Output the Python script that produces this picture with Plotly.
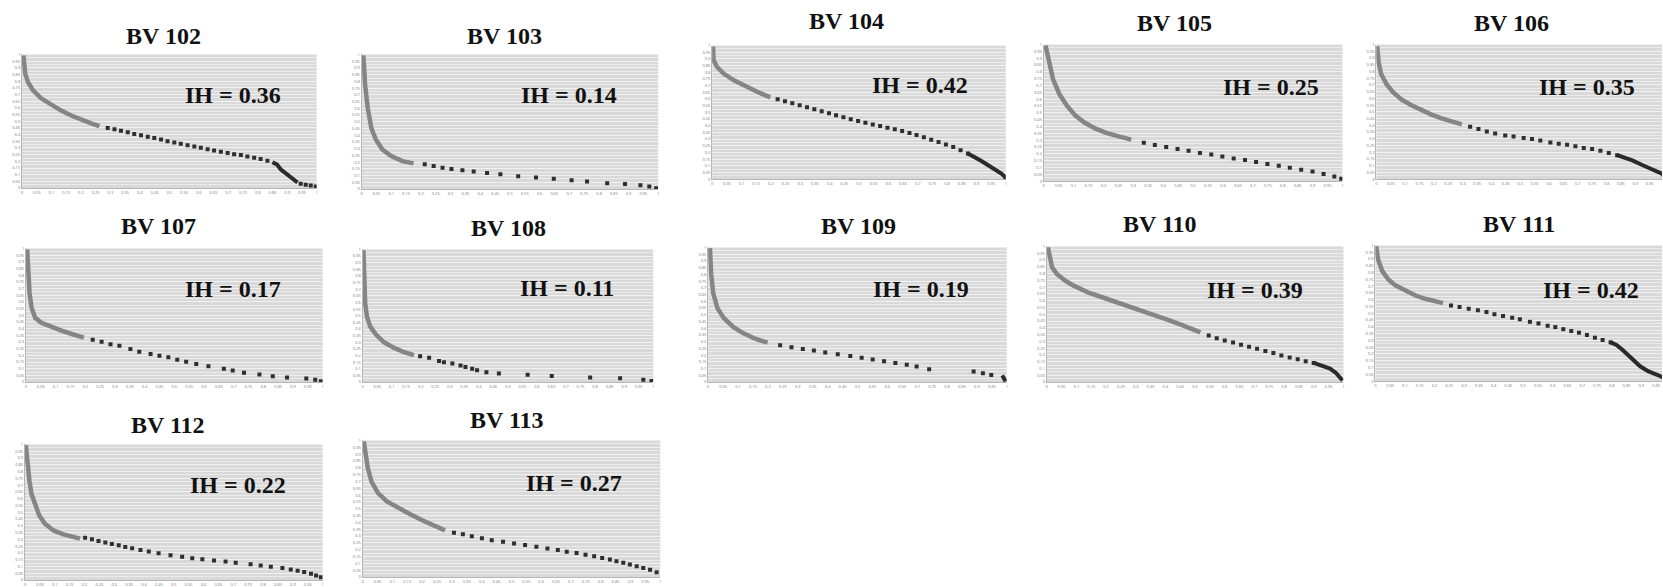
import plotly.graph_objects as go

W, H = 1663, 587

BASINS = ["BV 102", "BV 103", "BV 104", "BV 105", "BV 106", "BV 107",
          "BV 108", "BV 109", "BV 110", "BV 111", "BV 112", "BV 113"]
IH = [0.36, 0.14, 0.42, 0.25, 0.35, 0.17, 0.11, 0.19, 0.39, 0.42, 0.22, 0.27]
TICKS = [round(i * 0.05, 2) for i in range(21)]

# ---- BV 102
bv102_head_x = [0.005, 0.011, 0.02, 0.037, 0.065, 0.099, 0.133, 0.167, 0.201, 0.235, 0.263]
bv102_head_y = [0.993, 0.857, 0.795, 0.733, 0.672, 0.622, 0.58, 0.543, 0.511, 0.484, 0.464]
bv102_dots_x = [0.291, 0.314, 0.336, 0.359, 0.381, 0.404, 0.427, 0.449, 0.472, 0.494, 0.517, 0.539, 0.562,
                0.585, 0.607, 0.630, 0.652, 0.675, 0.698, 0.72, 0.743, 0.765, 0.788, 0.81, 0.833,
                0.946, 0.963, 0.98, 0.997]
bv102_dots_y = [0.449, 0.44, 0.43, 0.417, 0.405, 0.395, 0.385, 0.375, 0.363, 0.351, 0.341, 0.331, 0.321,
                0.311, 0.301, 0.291, 0.281, 0.272, 0.262, 0.254, 0.247, 0.237, 0.227, 0.217, 0.205,
                0.032, 0.025, 0.02, 0.012]
bv102_tail_x = [0.85, 0.865, 0.878, 0.9, 0.923, 0.935]
bv102_tail_y = [0.193, 0.178, 0.141, 0.099, 0.062, 0.042]

# ---- BV 103
bv103_head_x = [0.006, 0.012, 0.021, 0.033, 0.048, 0.07, 0.1, 0.138, 0.175]
bv103_head_y = [0.993, 0.772, 0.6, 0.453, 0.368, 0.294, 0.245, 0.208, 0.191]
bv103_dots_x = [0.213, 0.243, 0.273, 0.303, 0.34, 0.378, 0.423, 0.468, 0.528, 0.588, 0.648, 0.708,
                0.76, 0.828, 0.888, 0.94, 0.97, 0.993]
bv103_dots_y = [0.184, 0.172, 0.159, 0.15, 0.14, 0.13, 0.12, 0.11, 0.096, 0.086, 0.076, 0.066,
                0.056, 0.044, 0.037, 0.029, 0.02, 0.007]
bv103_tail_x = []
bv103_tail_y = []

# ---- BV 104
bv104_head_x = [0.003, 0.005, 0.017, 0.039, 0.074, 0.108, 0.153, 0.198]
bv104_head_y = [0.993, 0.889, 0.84, 0.79, 0.74, 0.699, 0.654, 0.612]
bv104_dots_x = [0.223, 0.248, 0.273, 0.298, 0.323, 0.348, 0.373, 0.398, 0.422, 0.447, 0.472, 0.497,
                0.522, 0.547, 0.572, 0.597, 0.622, 0.647, 0.672, 0.696, 0.721, 0.746, 0.771, 0.796,
                0.821, 0.846, 0.871]
bv104_dots_y = [0.598, 0.583, 0.568, 0.553, 0.538, 0.523, 0.509, 0.494, 0.479, 0.464, 0.449, 0.435,
                0.422, 0.41, 0.398, 0.385, 0.373, 0.36, 0.346, 0.331, 0.314, 0.296, 0.279, 0.259,
                0.24, 0.217, 0.193]
bv104_tail_x = [0.871, 0.896, 0.917, 0.94, 0.963, 0.985, 0.997, 1.0]
bv104_tail_y = [0.193, 0.165, 0.136, 0.104, 0.074, 0.042, 0.017, 0.0]

# ---- BV 105
bv105_head_x = [0.006, 0.017, 0.031, 0.052, 0.077, 0.105, 0.136, 0.172, 0.209, 0.251, 0.293]
bv105_head_y = [0.993, 0.867, 0.747, 0.639, 0.554, 0.482, 0.429, 0.386, 0.354, 0.328, 0.304]
bv105_dots_x = [0.335, 0.372, 0.41, 0.448, 0.485, 0.523, 0.561, 0.598, 0.636, 0.674, 0.711, 0.749,
                0.787, 0.824, 0.862, 0.9, 0.937, 0.973, 0.996]
bv105_dots_y = [0.282, 0.265, 0.251, 0.236, 0.222, 0.207, 0.195, 0.181, 0.166, 0.154, 0.14, 0.125,
                0.113, 0.099, 0.084, 0.07, 0.053, 0.034, 0.017]
bv105_tail_x = []
bv105_tail_y = []

# ---- BV 106
bv106_head_x = [0.003, 0.008, 0.017, 0.035, 0.058, 0.087, 0.122, 0.157, 0.192, 0.227, 0.262, 0.297]
bv106_head_y = [0.988, 0.866, 0.78, 0.707, 0.646, 0.593, 0.549, 0.512, 0.48, 0.451, 0.427, 0.407]
bv106_dots_x = [0.326, 0.355, 0.384, 0.413, 0.448, 0.477, 0.512, 0.541, 0.57, 0.605, 0.634, 0.663,
                0.692, 0.721, 0.75, 0.779, 0.808, 0.837]
bv106_dots_y = [0.39, 0.373, 0.354, 0.339, 0.324, 0.317, 0.305, 0.298, 0.288, 0.273, 0.263, 0.256,
                0.244, 0.232, 0.224, 0.212, 0.195, 0.178]
bv106_tail_x = [0.837, 0.866, 0.89, 0.924, 0.959, 0.993, 1.0]
bv106_tail_y = [0.178, 0.159, 0.139, 0.105, 0.073, 0.041, 0.02]

# ---- BV 107
bv107_head_x = [0.004, 0.007, 0.012, 0.019, 0.031, 0.052, 0.082, 0.12, 0.157, 0.195]
bv107_head_y = [0.993, 0.815, 0.667, 0.556, 0.481, 0.444, 0.415, 0.385, 0.358, 0.333]
bv107_dots_x = [0.225, 0.255, 0.285, 0.315, 0.352, 0.382, 0.42, 0.45, 0.48, 0.51, 0.54, 0.574, 0.615,
                0.667, 0.697, 0.735, 0.787, 0.832, 0.88, 0.945, 0.975, 0.994]
bv107_dots_y = [0.316, 0.301, 0.284, 0.272, 0.247, 0.227, 0.21, 0.198, 0.185, 0.168, 0.153, 0.136, 0.119,
                0.099, 0.086, 0.069, 0.057, 0.044, 0.035, 0.027, 0.017, 0.007]
bv107_tail_x = []
bv107_tail_y = []

# ---- BV 108
bv108_head_x = [0.003, 0.006, 0.009, 0.015, 0.026, 0.046, 0.074, 0.109, 0.143, 0.177]
bv108_head_y = [0.995, 0.745, 0.595, 0.495, 0.42, 0.358, 0.3, 0.258, 0.225, 0.203]
bv108_dots_x = [0.198, 0.229, 0.263, 0.28, 0.309, 0.337, 0.354, 0.377, 0.394, 0.426, 0.469, 0.568,
                0.651, 0.783, 0.886, 0.966, 0.994]
bv108_dots_y = [0.195, 0.183, 0.158, 0.15, 0.14, 0.125, 0.113, 0.1, 0.09, 0.075, 0.065, 0.055,
                0.045, 0.035, 0.028, 0.018, 0.008]
bv108_tail_x = []
bv108_tail_y = []

# ---- BV 109
bv109_head_x = [0.006, 0.01, 0.017, 0.031, 0.052, 0.084, 0.115, 0.157, 0.199]
bv109_head_y = [0.995, 0.805, 0.659, 0.549, 0.476, 0.41, 0.366, 0.322, 0.293]
bv109_dots_x = [0.241, 0.279, 0.317, 0.354, 0.392, 0.434, 0.476, 0.514, 0.551, 0.589, 0.627, 0.665,
                0.698, 0.74, 0.889, 0.92, 0.948]
bv109_dots_y = [0.273, 0.259, 0.246, 0.234, 0.22, 0.207, 0.194, 0.181, 0.168, 0.155, 0.142, 0.128,
                0.115, 0.095, 0.078, 0.065, 0.052]
bv109_tail_x = [0.985, 0.99, 0.993, 0.996]
bv109_tail_y = [0.05, 0.035, 0.02, 0.005]

# ---- BV 110
bv110_head_x = [0.004, 0.01, 0.018, 0.034, 0.061, 0.089, 0.116, 0.143, 0.177, 0.211, 0.246, 0.28,
                0.314, 0.348, 0.382, 0.416, 0.45, 0.484, 0.518]
bv110_head_y = [0.993, 0.908, 0.847, 0.798, 0.749, 0.713, 0.681, 0.657, 0.633, 0.608, 0.584, 0.56,
                0.531, 0.506, 0.482, 0.453, 0.426, 0.397, 0.367]
bv110_dots_x = [0.546, 0.573, 0.6, 0.628, 0.655, 0.682, 0.709, 0.737, 0.764, 0.791, 0.819, 0.846,
                0.873, 0.9]
bv110_dots_y = [0.343, 0.324, 0.307, 0.292, 0.275, 0.26, 0.246, 0.229, 0.214, 0.197, 0.182, 0.168,
                0.153, 0.141]
bv110_tail_x = [0.9, 0.928, 0.955, 0.975, 0.989, 0.997]
bv110_tail_y = [0.141, 0.124, 0.1, 0.068, 0.036, 0.012]

# ---- BV 111
bv111_head_x = [0.003, 0.009, 0.023, 0.043, 0.069, 0.103, 0.136, 0.169, 0.203, 0.229]
bv111_head_y = [0.995, 0.898, 0.813, 0.752, 0.704, 0.663, 0.631, 0.607, 0.587, 0.575]
bv111_dots_x = [0.256, 0.285, 0.316, 0.347, 0.376, 0.403, 0.432, 0.463, 0.489, 0.523, 0.552, 0.583,
                0.609, 0.636, 0.663, 0.689, 0.716, 0.743, 0.769, 0.796]
bv111_dots_y = [0.558, 0.546, 0.534, 0.522, 0.51, 0.493, 0.481, 0.468, 0.456, 0.437, 0.425, 0.408,
                0.398, 0.383, 0.369, 0.357, 0.34, 0.32, 0.303, 0.286]
bv111_tail_x = [0.796, 0.816, 0.836, 0.856, 0.876, 0.896, 0.923, 0.949, 0.969, 1.0]
bv111_tail_y = [0.286, 0.267, 0.231, 0.189, 0.146, 0.109, 0.073, 0.049, 0.029, 0.005]

# ---- BV 112
bv112_head_x = [0.003, 0.008, 0.015, 0.022, 0.034, 0.048, 0.067, 0.096, 0.129, 0.163, 0.185]
bv112_head_y = [0.995, 0.854, 0.732, 0.634, 0.549, 0.476, 0.415, 0.366, 0.337, 0.317, 0.305]
bv112_dots_x = [0.202, 0.225, 0.247, 0.27, 0.292, 0.315, 0.337, 0.36, 0.388, 0.416, 0.449, 0.489,
                0.528, 0.562, 0.596, 0.635, 0.674, 0.708, 0.758, 0.792, 0.826, 0.865, 0.893, 0.916,
                0.938, 0.961, 0.978, 0.994]
bv112_dots_y = [0.312, 0.3, 0.288, 0.276, 0.266, 0.256, 0.244, 0.234, 0.222, 0.21, 0.198, 0.183,
                0.171, 0.161, 0.154, 0.144, 0.137, 0.127, 0.117, 0.107, 0.098, 0.088, 0.078, 0.068,
                0.059, 0.046, 0.034, 0.02]
bv112_tail_x = []
bv112_tail_y = []

# ---- BV 113
bv113_head_x = [0.004, 0.01, 0.018, 0.03, 0.052, 0.082, 0.12, 0.157, 0.202, 0.247, 0.277]
bv113_head_y = [0.993, 0.892, 0.795, 0.699, 0.614, 0.554, 0.506, 0.463, 0.414, 0.366, 0.342]
bv113_dots_x = [0.307, 0.337, 0.367, 0.401, 0.434, 0.472, 0.509, 0.546, 0.584, 0.621, 0.656, 0.686,
                0.719, 0.749, 0.778, 0.805, 0.831, 0.853, 0.876, 0.898, 0.921, 0.943, 0.966, 0.988]
bv113_dots_y = [0.325, 0.313, 0.299, 0.284, 0.27, 0.258, 0.246, 0.234, 0.222, 0.21, 0.198, 0.186,
                0.176, 0.164, 0.152, 0.14, 0.128, 0.116, 0.104, 0.092, 0.08, 0.067, 0.053, 0.036]
bv113_tail_x = []
bv113_tail_y = []

SERIES = [
    (bv102_head_x, bv102_head_y, bv102_dots_x, bv102_dots_y, bv102_tail_x, bv102_tail_y),
    (bv103_head_x, bv103_head_y, bv103_dots_x, bv103_dots_y, bv103_tail_x, bv103_tail_y),
    (bv104_head_x, bv104_head_y, bv104_dots_x, bv104_dots_y, bv104_tail_x, bv104_tail_y),
    (bv105_head_x, bv105_head_y, bv105_dots_x, bv105_dots_y, bv105_tail_x, bv105_tail_y),
    (bv106_head_x, bv106_head_y, bv106_dots_x, bv106_dots_y, bv106_tail_x, bv106_tail_y),
    (bv107_head_x, bv107_head_y, bv107_dots_x, bv107_dots_y, bv107_tail_x, bv107_tail_y),
    (bv108_head_x, bv108_head_y, bv108_dots_x, bv108_dots_y, bv108_tail_x, bv108_tail_y),
    (bv109_head_x, bv109_head_y, bv109_dots_x, bv109_dots_y, bv109_tail_x, bv109_tail_y),
    (bv110_head_x, bv110_head_y, bv110_dots_x, bv110_dots_y, bv110_tail_x, bv110_tail_y),
    (bv111_head_x, bv111_head_y, bv111_dots_x, bv111_dots_y, bv111_tail_x, bv111_tail_y),
    (bv112_head_x, bv112_head_y, bv112_dots_x, bv112_dots_y, bv112_tail_x, bv112_tail_y),
    (bv113_head_x, bv113_head_y, bv113_dots_x, bv113_dots_y, bv113_tail_x, bv113_tail_y),
]

# layout (pixels): plot box left, right, top, bottom ; x max shown ; title centre ; IH label centre
BOXES = [(21, 316, 52, 187), (361, 658, 52, 188), (712, 1006, 43, 178), (1044, 1343, 42, 180),
         (1377, 1663, 42, 178), (25, 322, 248, 383), (362, 653, 249, 383), (708, 1007, 247, 383),
         (1047, 1344, 246, 383), (1376, 1663, 245, 382), (24, 322, 446, 583), (362, 660, 442, 580)]
XMAX = [1, 1, 1, 1, 0.993, 1, 1, 1, 1, 0.97, 1, 1]
TITLE_POS = [(163, 33), (504, 33), (847, 18), (1175, 20), (1512, 20), (158, 225), (508, 227),
             (859, 225), (1160, 223), (1520, 223), (167, 426), (507, 421)]
IH_POS = [(232, 93), (569, 93), (920, 83), (1272, 85), (1588, 85), (232, 289), (567, 288),
          (921, 289), (1256, 290), (1592, 290), (237, 487), (574, 485)]

SERIF = "Liberation Serif, Times New Roman, serif"

fig = go.Figure()
layout = dict(width=W, height=H, margin=dict(l=0, r=0, t=0, b=0),
              paper_bgcolor="white", plot_bgcolor="#d9d9d9", showlegend=False)
annotations = []

for i, (hx, hy, dx, dy, tx, ty) in enumerate(SERIES):
    n = i + 1
    xa = "x" if n == 1 else f"x{n}"
    ya = "y" if n == 1 else f"y{n}"
    fig.add_trace(go.Scatter(x=hx, y=hy, mode="lines", xaxis=xa, yaxis=ya,
                             line=dict(color="#858585", width=4.5), hoverinfo="skip"))
    fig.add_trace(go.Scatter(x=dx, y=dy, mode="markers", xaxis=xa, yaxis=ya,
                             marker=dict(symbol="square", size=4, color="#2e2e2e"), hoverinfo="skip"))
    if tx:
        fig.add_trace(go.Scatter(x=tx, y=ty, mode="lines", xaxis=xa, yaxis=ya,
                                 line=dict(color="#2a2a2a", width=4), hoverinfo="skip"))
    l, r, t, b = BOXES[i]
    xkey = "xaxis" if n == 1 else f"xaxis{n}"
    ykey = "yaxis" if n == 1 else f"yaxis{n}"
    layout[xkey] = dict(domain=[l / W, r / W], anchor=ya, range=[0, XMAX[i]],
                        tickvals=TICKS, ticktext=[f"{v:g}" for v in TICKS],
                        tickfont=dict(size=4, color="#777777"), ticks="",
                        showgrid=False, zeroline=False, showline=True, linecolor="#b5b5b5",
                        linewidth=1, fixedrange=True)
    layout[ykey] = dict(domain=[1 - b / H, 1 - t / H], anchor=xa, range=[0, 1],
                        tickvals=TICKS, ticktext=[f"{v:g}" for v in TICKS],
                        tickfont=dict(size=4, color="#777777"), ticks="",
                        showgrid=True, gridcolor="#f2f2f2", gridwidth=1,
                        minor=dict(dtick=0.025, showgrid=True, gridcolor="#ebebeb", gridwidth=1),
                        zeroline=False, showline=True, linecolor="#b5b5b5", linewidth=1,
                        fixedrange=True)
    cx, cy = TITLE_POS[i]
    annotations.append(dict(text=f"<b>{BASINS[i]}</b>", x=cx / W, y=1 - cy / H, xref="paper",
                            yref="paper", xanchor="center", yanchor="middle", showarrow=False,
                            font=dict(family=SERIF, size=24, color="#111111")))
    ix, iy = IH_POS[i]
    annotations.append(dict(text=f"<b>IH = {IH[i]:.2f}</b>", x=ix / W, y=1 - iy / H, xref="paper",
                            yref="paper", xanchor="center", yanchor="middle", showarrow=False,
                            font=dict(family=SERIF, size=24, color="#111111")))

layout["annotations"] = annotations
fig.update_layout(**layout)
fig.write_html("out.html", config={"displayModeBar": False},
               post_script="document.body.style.margin='0';document.body.style.overflow='hidden';")
